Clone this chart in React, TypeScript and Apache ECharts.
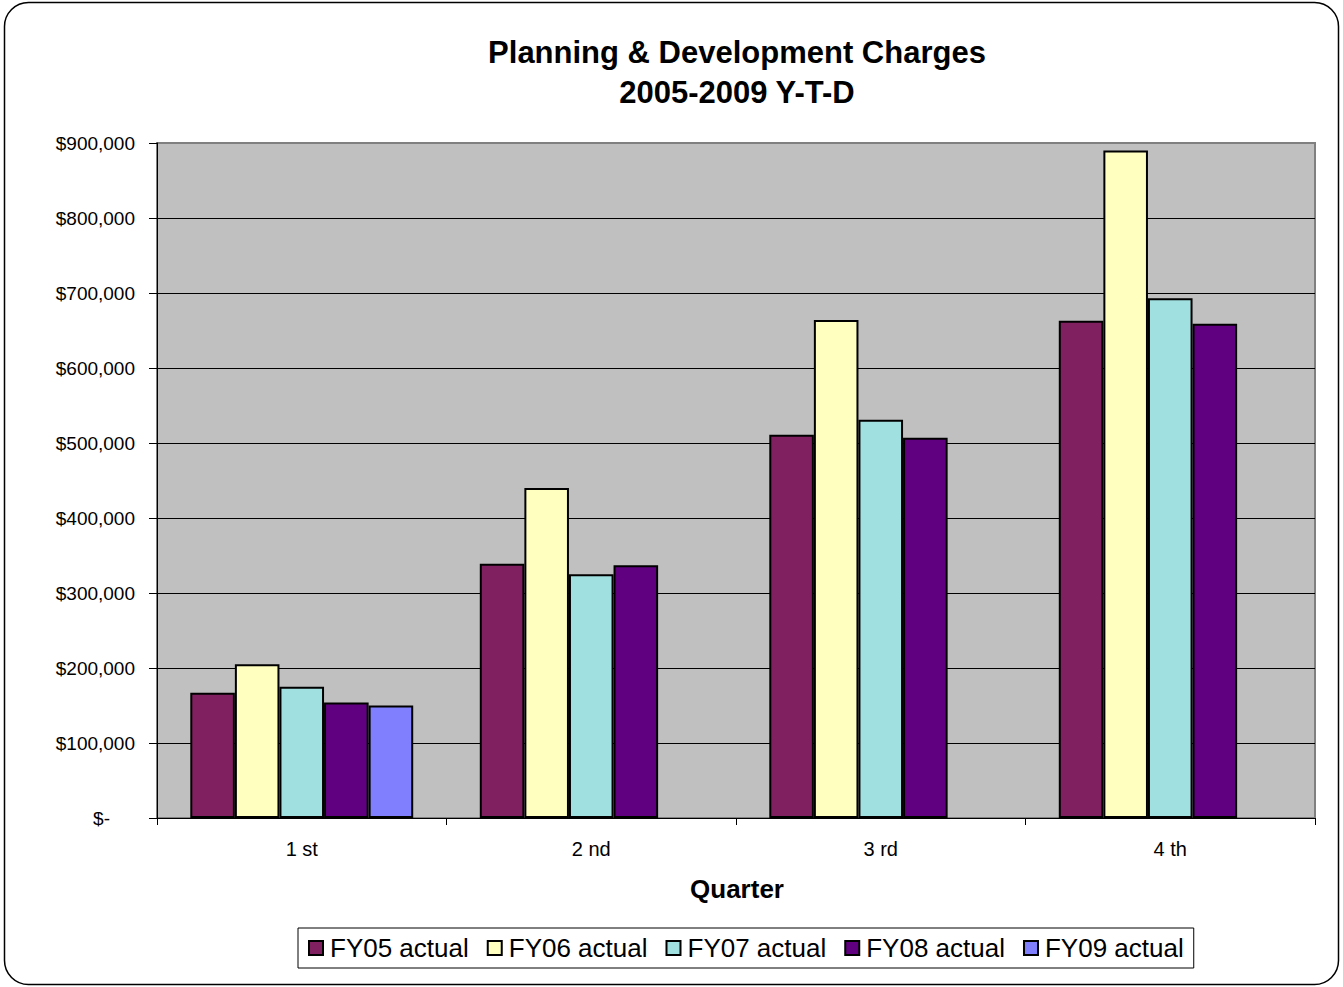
import React, { useEffect, useRef } from "react";
import * as echarts from "echarts";

const quarters = ["1 st", "2 nd", "3 rd", "4 th"];
const seriesNames = ["FY05 actual", "FY06 actual", "FY07 actual", "FY08 actual", "FY09 actual"];
const fy05 = [167000, 339000, 511000, 663000];
const fy06 = [205000, 440000, 664000, 890000];
const fy07 = [175000, 325000, 531000, 693000];
const fy08 = [154000, 337000, 507000, 659000];
const fy09: (number | null)[] = [150000, null, null, null];
const seriesColors = ["#802060", "#FFFFC0", "#A0E0E0", "#600080", "#8080FF"];

const FONT = "'Liberation Sans', Arial, sans-serif";

export default function App() {
  const ref = useRef<HTMLDivElement>(null);
  useEffect(() => {
    document.body.style.margin = "0";
    const chart = echarts.init(ref.current!, undefined, { renderer: "svg" });
    const data = [fy05, fy06, fy07, fy08, fy09];
    chart.setOption({
      animation: false,
      backgroundColor: "#FFFFFF",
      textStyle: { fontFamily: FONT },
      title: {
        text: "Planning & Development Charges\n2005-2009 Y-T-D",
        left: 737,
        top: 32,
        padding: 0,
        textAlign: "center",
        textStyle: { fontFamily: FONT, fontSize: 31, fontWeight: "bold", lineHeight: 40, color: "#000" },
      },
      graphic: [
        {
          type: "rect",
          z: -1,
          shape: { x: 4.5, y: 2.5, width: 1334, height: 982, r: 24 },
          style: { fill: "none", stroke: "#000", lineWidth: 1.5 },
        },
        {
          type: "text",
          x: 737,
          y: 889,
          style: {
            text: "Quarter",
            font: "bold 26px 'Liberation Sans', Arial, sans-serif",
            fill: "#000",
            align: "center",
            verticalAlign: "middle",
          },
        },
      ],
      legend: {
        left: 298,
        top: 928,
        padding: [7, 10],
        itemGap: 18,
        itemWidth: 14,
        itemHeight: 14,
        icon: "rect",
        borderColor: "#000",
        borderWidth: 1,
        backgroundColor: "#FFFFFF",
        textStyle: { fontFamily: FONT, fontSize: 26, color: "#000", width: 141, padding: [0, 0, 0, 2] },
        itemStyle: { borderColor: "#000", borderWidth: 2 },
        data: seriesNames,
      },
      grid: {
        left: 157,
        top: 143,
        width: 1158,
        height: 675,
        show: true,
        backgroundColor: "#C0C0C0",
        borderColor: "#808080",
        borderWidth: 2,
      },
      xAxis: {
        type: "category",
        data: quarters,
        axisLine: { show: true, lineStyle: { color: "#000", width: 1 } },
        axisTick: { show: true, length: 7, lineStyle: { color: "#000" } },
        axisLabel: { fontFamily: FONT, fontSize: 20, color: "#000", margin: 21 },
        splitLine: { show: false },
      },
      yAxis: {
        type: "value",
        min: 0,
        max: 900000,
        interval: 100000,
        axisLine: { show: true, lineStyle: { color: "#000", width: 1 } },
        axisTick: { show: true, length: 8, lineStyle: { color: "#000" } },
        axisLabel: {
          fontFamily: FONT,
          fontSize: 19,
          color: "#000",
          margin: 22,
          formatter: (v: number) => (v === 0 ? "{z|$-}" : "$" + v.toLocaleString("en-US")),
          rich: { z: { fontFamily: FONT, fontSize: 19, color: "#000", padding: [0, 25, 0, 0] } },
        },
        splitLine: { show: true, showMinLine: false, showMaxLine: false, lineStyle: { color: "#000", width: 1 } },
      },
      series: seriesNames.map((name, i) => ({
        name,
        type: "bar",
        data: data[i],
        barGap: "0%",
        barCategoryGap: "23%",
        itemStyle: { color: seriesColors[i], borderColor: "#000", borderWidth: 2 },
      })),
    });
    return () => chart.dispose();
  }, []);
  return (
    <div
      ref={ref}
      style={{ position: "fixed", left: 0, top: 0, width: 1343, height: 987, background: "#fff" }}
    />
  );
}
